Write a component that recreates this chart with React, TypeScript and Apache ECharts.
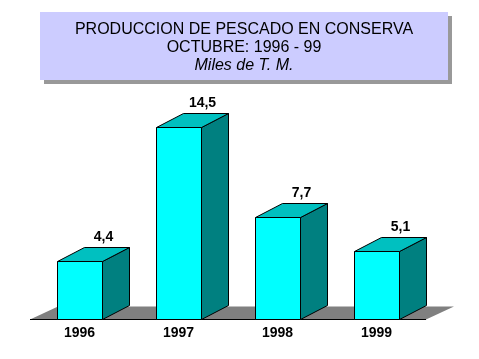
import { useEffect, useRef } from 'react';
import * as echarts from 'echarts';

const categories = ['1996', '1997', '1998', '1999'];
const values = [4.4, 14.5, 7.7, 5.1];
const titleLines = ['PRODUCCION DE PESCADO EN CONSERVA', 'OCTUBRE: 1996 - 99', 'Miles de T. M.'];

const FONT = '"Liberation Sans", Arial, sans-serif';

export default function App() {
  const ref = useRef<HTMLDivElement>(null);
  useEffect(() => {
    const chart = echarts.init(ref.current!, null, { renderer: 'svg' });
    const DX = 27;
    const DY = 14;
    const HALF = 22.5;
    chart.setOption({
      animation: false,
      grid: { left: 30, right: 53, top: 120, bottom: 40 },
      xAxis: {
        type: 'category',
        data: categories,
        axisLine: { show: false },
        axisTick: { show: false },
        splitLine: { show: false },
        axisLabel: { color: '#000', fontFamily: FONT, fontSize: 14, fontWeight: 'bold', margin: 6 },
      },
      yAxis: { type: 'value', min: 0, max: 15, show: false },
      graphic: [
        { type: 'rect', shape: { x: 44, y: 16, width: 408, height: 68 }, style: { fill: '#999999' }, z: 1 },
        { type: 'rect', shape: { x: 40, y: 12, width: 408, height: 68 }, style: { fill: '#CCCCFF' }, z: 2 },
        {
          type: 'text', x: 244, y: 28, z: 3,
          style: { text: titleLines[0], font: `16px ${FONT}`, fill: '#000', align: 'center', verticalAlign: 'middle' },
        },
        {
          type: 'text', x: 244, y: 46, z: 3,
          style: { text: titleLines[1], font: `16px ${FONT}`, fill: '#000', align: 'center', verticalAlign: 'middle' },
        },
        {
          type: 'text', x: 244, y: 64, z: 3,
          style: { text: titleLines[2], font: `italic 16px ${FONT}`, fill: '#000', align: 'center', verticalAlign: 'middle' },
        },
      ],
      series: [
        {
          type: 'custom',
          silent: true,
          data: [[0, 0]],
          encode: { x: 0, y: 1 },
          renderItem: (params: any) => {
            const cs = params.coordSys;
            const by = Math.round(cs.y + cs.height) + 0.5;
            const x0 = Math.round(cs.x);
            const x1 = Math.round(cs.x + cs.width);
            return {
              type: 'group',
              children: [
                {
                  type: 'polygon',
                  shape: { points: [[x0, by], [x1, by], [x1 + 28, by - 13], [x0 + 28, by - 13]] },
                  style: { fill: '#808080', stroke: null },
                },
                {
                  type: 'line',
                  shape: { x1: x0, y1: by, x2: x1, y2: by },
                  style: { stroke: '#000', lineWidth: 1 },
                },
              ],
            };
          },
        },
        {
          type: 'custom',
          silent: true,
          data: values.map((v, i) => [i, v]),
          encode: { x: 0, y: 1 },
          renderItem: (params: any, api: any) => {
            const idx = api.value(0);
            const v = api.value(1);
            const top = api.coord([idx, v]);
            const base = api.coord([idx, 0]);
            const cx = top[0];
            const x0 = Math.round(cx - HALF) + 0.5;
            const x1 = x0 + 45;
            const ty = Math.round(top[1]) + 0.5;
            const by = Math.round(base[1]) + 0.5;
            const label = String(v).replace('.', ',');
            const stroke = { stroke: '#000', lineWidth: 1 };
            return {
              type: 'group',
              children: [
                {
                  type: 'polygon',
                  shape: { points: [[x1, ty], [x1 + DX, ty - DY], [x1 + DX, by - DY], [x1, by]] },
                  style: { fill: '#008080', ...stroke },
                },
                {
                  type: 'polygon',
                  shape: { points: [[x0, ty], [x0 + DX, ty - DY], [x1 + DX, ty - DY], [x1, ty]] },
                  style: { fill: '#00C0C0', ...stroke },
                },
                {
                  type: 'rect',
                  shape: { x: x0, y: ty, width: 45, height: by - ty },
                  style: { fill: '#00FFFF', ...stroke },
                },
                {
                  type: 'text',
                  x: cx + 24,
                  y: ty - DY - 5,
                  style: {
                    text: label,
                    font: `bold 14px ${FONT}`,
                    fill: '#000',
                    align: 'center',
                    verticalAlign: 'bottom',
                  },
                },
              ],
            };
          },
        },
      ],
    });
    return () => chart.dispose();
  }, []);
  return <div ref={ref} style={{ position: 'fixed', left: 0, top: 0, width: 479, height: 359 }} />;
}
